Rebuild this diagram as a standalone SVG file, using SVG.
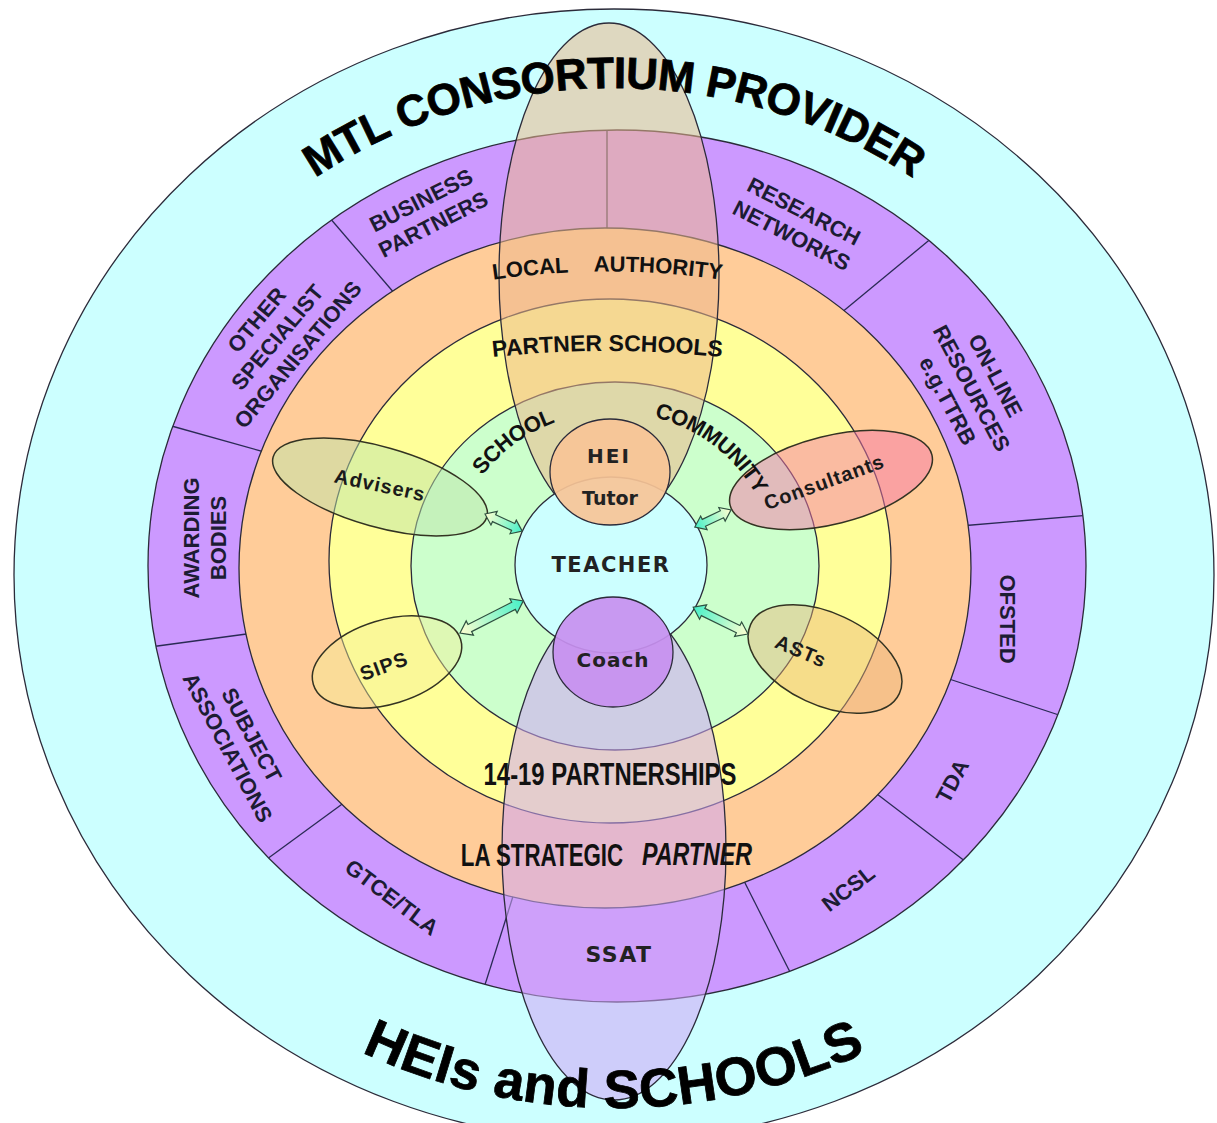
<svg xmlns="http://www.w3.org/2000/svg" width="1217" height="1123" viewBox="0 0 1217 1123">
<style>
.ring{stroke:#2b2b3a;stroke-width:1.3}
.div{stroke:#2a2a55;stroke-width:1.3}
.seg{font-family:'Liberation Sans',Arial,sans-serif;font-weight:bold;font-size:22px;fill:#1c1c33;text-anchor:middle}
.big{font-family:'Liberation Sans',Arial,sans-serif;font-weight:bold;fill:#000;stroke:#000;stroke-width:0.8}
.wa{font-family:'Liberation Sans',Arial,sans-serif;font-weight:bold;fill:#111;text-anchor:middle}
.dv{font-family:'DejaVu Sans',Verdana,sans-serif;font-weight:bold;fill:#222;text-anchor:middle}
.lab{font-family:'Liberation Sans',Arial,sans-serif;font-weight:bold;font-size:20px;fill:#1a1a1a;text-anchor:middle;letter-spacing:1px}
.sm{stroke:#333322;stroke-width:1.5}
.arr{fill:url(#ag);stroke:#2f5040;stroke-width:1.2}
</style>
<defs>
<linearGradient id="ag" x1="0" y1="0" x2="1" y2="0">
<stop offset="0" stop-color="#FFFFD0"/>
<stop offset="1" stop-color="#44F0C8"/>
</linearGradient>
<clipPath id="purpleClip"><ellipse cx="617" cy="566" rx="469" ry="436"/></clipPath>
<path id="topArc" d="M 98 575 A 516 487 0 0 1 1130 575"/>
<path id="botArc" d="M 49 575 A 565 533 0 0 0 1179 575"/>
<path id="gArc" d="M 451 568 A 162 156 0 0 1 775 568"/>
<path id="laArc" d="M 485 281 Q 607 262 730 281"/>
<path id="psArc" d="M 485 358 Q 607 344 730 358"/>
</defs>
<rect width="1217" height="1123" fill="#fff"/>

<g id="rings">
<ellipse id="ring-outer" class="ring" cx="614" cy="575" rx="600" ry="566" fill="#CCFFFF"/>
<ellipse id="ring-purple" class="ring" cx="617" cy="566" rx="469" ry="436" fill="#CC99FF"/>
<g id="dividers" clip-path="url(#purpleClip)">
<line class="div" x1="607" y1="120" x2="607" y2="240"/>
<line class="div" x1="329" y1="217" x2="395" y2="294"/>
<line class="div" x1="168" y1="425" x2="268" y2="453"/>
<line class="div" x1="150" y1="647" x2="254" y2="633"/>
<line class="div" x1="263" y1="862" x2="345" y2="802"/>
<line class="div" x1="483" y1="991" x2="515" y2="890"/>
<line class="div" x1="742" y1="877" x2="793" y2="978"/>
<line class="div" x1="873" y1="791" x2="970" y2="865"/>
<line class="div" x1="943" y1="677" x2="1065" y2="717"/>
<line class="div" x1="960" y1="526" x2="1090" y2="515"/>
<line class="div" x1="841" y1="313" x2="933" y2="237"/>
</g>
<ellipse id="ring-orange" class="ring" cx="605" cy="568" rx="366" ry="340" fill="#FFCC99"/>
<ellipse id="ring-yellow" class="ring" cx="610" cy="561" rx="281" ry="262" fill="#FFFF99"/>
<ellipse id="ring-green" class="ring" cx="615" cy="566" rx="204" ry="184" fill="#CCFFCC"/>
</g>

<g id="la-ellipse"><ellipse class="ring" cx="609" cy="275" rx="110" ry="252" fill="rgb(237,184,140)" fill-opacity="0.55"/></g>
<g id="strategic-ellipse"><ellipse class="ring" cx="614" cy="850" rx="112" ry="250" fill="rgb(206,166,246)" fill-opacity="0.56"/></g>

<g id="teacher"><ellipse class="ring" cx="611" cy="565" rx="96" ry="88" fill="#CCFFFF"/>
<text class="dv" x="611" y="572" font-size="21" letter-spacing="1.5">TEACHER</text></g>
<g id="hei-tutor"><ellipse class="ring" cx="610" cy="472" rx="60" ry="53" fill="#F7C497" fill-opacity="0.92"/>
<text class="dv" x="609" y="463" font-size="20" letter-spacing="2">HEI</text>
<text class="dv" x="610" y="505" font-size="19">Tutor</text></g>
<g id="coach"><ellipse class="ring" cx="613" cy="652" rx="60" ry="55" fill="#C890F0" fill-opacity="0.92"/>
<text class="dv" x="613" y="667" font-size="20" fill="#2a1a44" letter-spacing="1">Coach</text></g>

<g id="advisers"><ellipse class="sm" transform="translate(380,487) rotate(15.7)" rx="111" ry="40" fill="rgb(190,230,170)" fill-opacity="0.5"/>
<text class="lab" transform="translate(380,485) rotate(12)" y="7">Advisers</text></g>
<g id="consultants"><ellipse class="sm" transform="translate(831,480) rotate(-14)" rx="104" ry="44" fill="rgb(245,120,170)" fill-opacity="0.5"/>
<text class="lab" transform="translate(824,482) rotate(-20)" y="7">Consultants</text></g>
<g id="sips"><ellipse class="sm" transform="translate(387,662) rotate(-17)" rx="77" ry="42" fill="rgb(245,240,150)" fill-opacity="0.45"/>
<text class="lab" transform="translate(384,666) rotate(-20)" y="7">SIPS</text></g>
<g id="asts"><ellipse class="sm" transform="translate(825,659) rotate(25)" rx="82" ry="46" fill="rgb(235,180,120)" fill-opacity="0.45"/>
<text class="lab" transform="translate(801,651) rotate(23)" y="7">ASTs</text></g>

<g id="connectors">
<path class="arr" transform="translate(485,514) rotate(24.7)" d="M0,0 L10,-7.5 L10,-3.8 L31,-3.8 L31,-7.5 L41,0 L31,7.5 L31,3.8 L10,3.8 L10,7.5 Z"/>
<path class="arr" transform="translate(731,510) rotate(154.7)" d="M0,0 L10,-7.5 L10,-3.8 L30,-3.8 L30,-7.5 L40,0 L30,7.5 L30,3.8 L10,3.8 L10,7.5 Z"/>
<path class="arr" transform="translate(460,633) rotate(-26.9)" d="M0,0 L11,-8 L11,-4 L60,-4 L60,-8 L71,0 L60,8 L60,4 L11,4 L11,8 Z"/>
<path class="arr" transform="translate(748,634) rotate(206.1)" d="M0,0 L11,-8 L11,-4 L50,-4 L50,-8 L61,0 L50,8 L50,4 L11,4 L11,8 Z"/>
</g>

<g id="ring-labels">
<text class="wa" font-size="22" word-spacing="20"><textPath href="#laArc" startOffset="50%">LOCAL AUTHORITY</textPath></text>
<text class="wa" font-size="23"><textPath href="#psArc" startOffset="50%">PARTNER SCHOOLS</textPath></text>
<text class="wa" font-size="22" letter-spacing="-0.5"><textPath href="#gArc" startOffset="29%">SCHOOL</textPath></text>
<text class="wa" font-size="22" letter-spacing="-0.5"><textPath href="#gArc" startOffset="71.5%">COMMUNITY</textPath></text>
<text class="wa" transform="translate(610,785) scale(0.77,1)" font-size="31">14-19 PARTNERSHIPS</text>
<text class="wa" transform="translate(542,866) scale(0.72,1)" font-size="31">LA STRATEGIC</text>
<text class="wa" transform="translate(697,865) scale(0.75,1)" font-size="31" font-style="italic">PARTNER</text>
</g>

<g id="sector-labels">
<text class="seg" transform="translate(427,212) rotate(-27)"><tspan x="0" y="-5.5">BUSINESS</tspan><tspan x="0" y="21.5">PARTNERS</tspan></text>
<text class="seg" transform="translate(798,223) rotate(27)"><tspan x="0" y="-5.5">RESEARCH</tspan><tspan x="0" y="21.5">NETWORKS</tspan></text>
<text class="seg" transform="translate(277,337) rotate(-50)"><tspan x="0" y="-19">OTHER</tspan><tspan x="0" y="8">SPECIALIST</tspan><tspan x="0" y="35">ORGANISATIONS</tspan></text>
<text class="seg" transform="translate(204,538) rotate(-90)"><tspan x="0" y="-5.5">AWARDING</tspan><tspan x="0" y="21.5">BODIES</tspan></text>
<text class="seg" transform="translate(240,741) rotate(62)"><tspan x="0" y="-5.5">SUBJECT</tspan><tspan x="0" y="21.5">ASSOCIATIONS</tspan></text>
<text class="seg" transform="translate(392,897) rotate(37)" y="8">GTCE/TLA</text>
<text class="dv" x="619" y="962" font-size="22" font-weight="normal" fill="#333" letter-spacing="1.5">SSAT</text>
<text class="seg" transform="translate(848,888) rotate(-38)" y="8">NCSL</text>
<text class="seg" transform="translate(952,781) rotate(-62)" y="8">TDA</text>
<text class="seg" transform="translate(1008,619) rotate(90)" y="8">OFSTED</text>
<text class="seg" transform="translate(972,388) rotate(62)"><tspan x="0" y="-19">ON-LINE</tspan><tspan x="0" y="8">RESOURCES</tspan><tspan x="0" y="35">e.g.TTRB</tspan></text>
</g>

<g id="titles">
<text class="big" font-size="44" letter-spacing="-0.5"><textPath href="#topArc" startOffset="50%" text-anchor="middle">MTL CONSORTIUM PROVIDER</textPath></text>
<text class="big" font-size="54" letter-spacing="0.5"><textPath href="#botArc" startOffset="50%" text-anchor="middle">HEIs and SCHOOLS</textPath></text>
</g>
</svg>
